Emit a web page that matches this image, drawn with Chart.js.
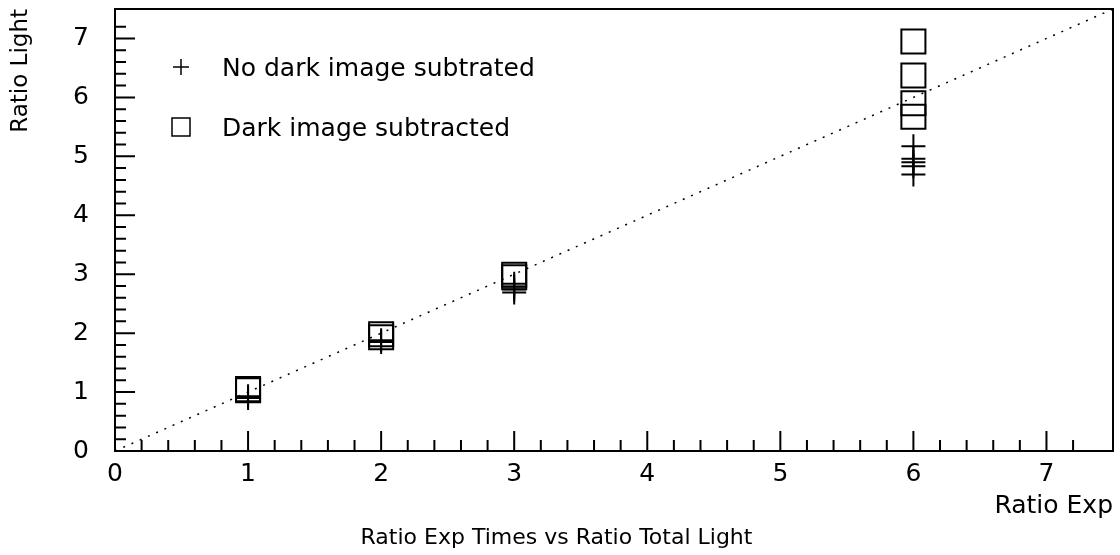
<!DOCTYPE html>
<html>
<head>
<meta charset="utf-8">
<script src="https://cdn.jsdelivr.net/npm/chart.js@4"></script>
<style>
  html, body { margin: 0; padding: 0; background: #fff; }
  #wrap { width: 1120px; height: 555px; }
</style>
</head>
<body>
<div id="wrap"><canvas id="grafic"></canvas></div>
<script>
// dades llegides del gràfic
const noDarkX = [1, 1, 2, 2, 3, 3, 3, 3, 6, 6, 6, 6, 6];
const noDarkY = [0.93, 0.9, 1.88, 1.85, 2.84, 2.79, 2.74, 2.69, 5.17, 4.96, 4.9, 4.83, 4.69];
const darkX = [1, 1, 2, 2, 3, 3, 6, 6, 6, 6];
const darkY = [1.05, 1.03, 1.98, 1.93, 2.99, 2.95, 6.95, 6.37, 5.9, 5.67];
const refX = [0, 7.5];
const refY = [0, 7.5];
const legendLabels = ['No dark image subtrated', 'Dark image subtracted'];

const FONT = "'DejaVu Sans', sans-serif";
Chart.defaults.font.family = FONT;
Chart.defaults.color = '#000';

function punts(xs, ys) {
    return xs.map((x, i) => ({ x: x, y: ys[i] }));
}

function etiqueta(v) {
    const r = Math.round(v * 10) / 10;
    return Number.isInteger(r) ? String(r) : '';
}

// marc, ticks cap a dins i llegenda dins l'àrea
const marcPlugin = {
    id: 'marc',
    afterDraw(chart) {
        const { ctx, chartArea: a, scales } = chart;
        ctx.save();
        ctx.strokeStyle = '#000';
        ctx.lineWidth = 2;
        ctx.strokeRect(a.left, a.top, a.right - a.left, a.bottom - a.top);

        ctx.beginPath();
        scales.x.ticks.forEach(t => {
            const n = Math.round(t.value * 5);
            if (Math.abs(t.value * 5 - n) > 1e-6) return;
            const len = n % 5 === 0 ? 20 : 11;
            const px = scales.x.getPixelForValue(t.value);
            ctx.moveTo(px, a.bottom);
            ctx.lineTo(px, a.bottom - len);
        });
        scales.y.ticks.forEach(t => {
            const n = Math.round(t.value * 5);
            if (Math.abs(t.value * 5 - n) > 1e-6) return;
            const len = n % 5 === 0 ? 20 : 11;
            const py = scales.y.getPixelForValue(t.value);
            ctx.moveTo(a.left, py);
            ctx.lineTo(a.left + len, py);
        });
        ctx.stroke();

        // llegenda
        ctx.font = '25px ' + FONT;
        ctx.fillStyle = '#000';
        ctx.textBaseline = 'middle';
        ctx.textAlign = 'left';
        const mx = a.left + 66;
        legendLabels.forEach((txt, i) => {
            const y = a.top + 58 + i * 60;
            ctx.beginPath();
            if (i === 0) {
                ctx.moveTo(mx - 8, y); ctx.lineTo(mx + 8, y);
                ctx.moveTo(mx, y - 8); ctx.lineTo(mx, y + 8);
            } else {
                ctx.rect(mx - 9, y - 9, 18, 18);
            }
            ctx.lineWidth = 1.5;
            ctx.stroke();
            ctx.fillText(txt, a.left + 107, y + 2);
        });
        ctx.restore();
    }
};

new Chart(document.getElementById('grafic'), {
    type: 'scatter',
    data: {
        datasets: [
            {
                label: legendLabels[0],
                data: punts(noDarkX, noDarkY),
                pointStyle: 'cross',
                pointRadius: 12,
                borderColor: '#000',
                borderWidth: 2
            },
            {
                label: legendLabels[1],
                data: punts(darkX, darkY),
                pointStyle: 'rect',
                pointRadius: 17,
                borderColor: '#000',
                backgroundColor: 'rgba(0,0,0,0)',
                borderWidth: 2
            },
            {
                type: 'line',
                label: 'y = x',
                data: punts(refX, refY),
                borderColor: '#000',
                borderWidth: 1.5,
                borderDash: [2, 7],
                pointRadius: 0,
                fill: false
            }
        ]
    },
    options: {
        responsive: true,
        maintainAspectRatio: false,
        animation: false,
        layout: { autoPadding: false, padding: { top: 9, right: 7, bottom: 0, left: 0 } },
        plugins: {
            legend: { display: false },
            tooltip: { enabled: false },
            title: {
                display: true,
                text: 'Ratio Exp Times vs Ratio Total Light',
                position: 'bottom',
                color: '#000',
                font: { size: 22, weight: 'normal' },
                padding: { top: 0, bottom: 4 }
            }
        },
        scales: {
            x: {
                type: 'linear',
                min: 0,
                max: 7.5,
                border: { display: false },
                grid: { display: false, drawTicks: false },
                ticks: {
                    stepSize: 0.2,
                    autoSkip: false,
                    maxRotation: 0,
                    minRotation: 0,
                    padding: 8,
                    font: { size: 25 },
                    callback: etiqueta
                },
                title: {
                    display: true,
                    text: 'Ratio Exp',
                    align: 'end',
                    font: { size: 25 },
                    padding: { top: 0, bottom: 3 }
                },
                afterFit(s) {
                    s.height = 73.6;
                    s.paddingLeft = 0;
                    s.paddingRight = 0;
                }
            },
            y: {
                type: 'linear',
                min: 0,
                max: 7.5,
                border: { display: false },
                grid: { display: false, drawTicks: false },
                ticks: {
                    stepSize: 0.2,
                    autoSkip: false,
                    padding: 26,
                    font: { size: 25 },
                    callback: etiqueta
                },
                title: {
                    display: true,
                    text: 'Ratio Light',
                    align: 'end',
                    font: { size: 23 },
                    padding: { top: 7, bottom: 0 }
                },
                afterFit(s) {
                    s.width = 115;
                    s.paddingTop = 0;
                    s.paddingBottom = 0;
                }
            }
        }
    },
    plugins: [marcPlugin]
});
</script>
</body>
</html>
